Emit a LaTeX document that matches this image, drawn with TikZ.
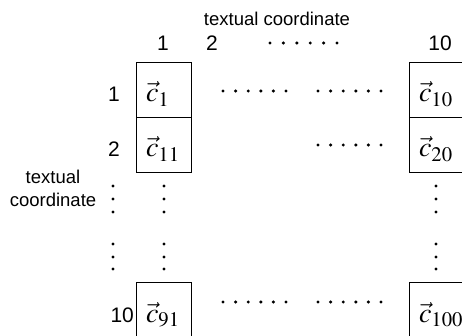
\documentclass[tikz,border=0pt]{standalone}
\usepackage{mathptmx}
\usepackage{fontspec}
\setsansfont{Liberation Sans}
\begin{document}
\begin{tikzpicture}[x=1pt,y=-1pt,
  cell/.style={draw,line width=0.8pt,minimum width=55pt,minimum height=55pt,
    inner xsep=10pt,inner ysep=0pt,text width=35pt,align=left,
    text height=40pt,text depth=15pt,font=\fontsize{28}{32}\selectfont},
  lab/.style={font=\sffamily\fontsize{18.5}{23}\selectfont,inner sep=0pt},
  idx/.style={font=\sffamily\fontsize{21}{25}\selectfont,inner sep=0pt}]
\useasboundingbox (0,0) rectangle (462,336);
\clip (0,0) rectangle (462,336);

% cells of the grid
\node[cell] (b1)   at (163.5,89.5)  {$\vec{c}_{1}$};
\node[cell] (b11)  at (163.5,144.5) {$\vec{c}_{11}$};
\node[cell] (b91)  at (163.5,309.5) {$\vec{c}_{91}$};
\node[cell] (b10)  at (436.5,89.5)  {$\vec{c}_{10}$};
\node[cell] (b20)  at (436.5,144.5) {$\vec{c}_{20}$};
\node[cell] (b100) at (436.5,309.5) {$\vec{c}_{100}$};

% axis captions
\node[lab] (toptitle) at (277,19) {textual coordinate};
\node[lab,align=center] (lefttitle) at (53,188) {textual\\coordinate};

% column indices
\node[idx,anchor=base] (col1)  at (163,51) {1};
\node[idx,anchor=base] (col2)  at (212,51) {2};
\node[idx,anchor=base] (col10) at (440,51) {10};

% row indices, on the baseline of the cell entries
\coordinate (rowx) at (114,0);
\node[idx,anchor=base] (row1)  at (b1.base -| rowx)  {1};
\node[idx,anchor=base] (row2)  at (b11.base -| rowx) {2};
\node[idx,anchor=base east] (row10) at ([xshift=-1.5pt]b91.base west) {10};

% horizontal ellipsis dots
\foreach \i in {0,...,5} {
  \fill (270+13.4*\i,43) circle (1.7);
  \fill (223+12.6*\i,91) circle (1.7);
  \fill (318+12.6*\i,91) circle (1.7);
  \fill (318+12.6*\i,145) circle (1.7);
  \fill (223+12.6*\i,302) circle (1.7);
  \fill (318+12.6*\i,302) circle (1.7);
}
% vertical ellipsis dots
\foreach \xx in {113,164,436} {
  \foreach \yy in {186,199,212,244,257,269} {
    \fill (\xx,\yy) circle (1.7);
  }
}
\end{tikzpicture}
\end{document}
